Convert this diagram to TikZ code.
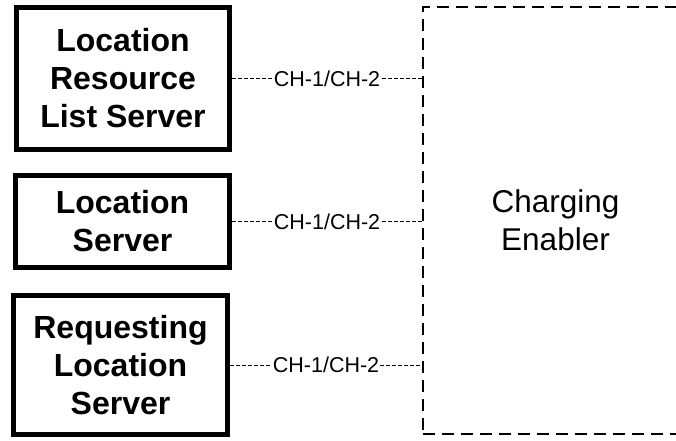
\documentclass[tikz,border=0pt]{standalone}
\usepackage{fontspec}
\setmainfont{Liberation Sans}
\begin{document}
\begin{tikzpicture}[x=1pt,y=-1pt,
  srvbox/.style={draw,line width=5pt,rectangle,align=center,inner sep=0pt,
    font=\fontsize{32}{38}\selectfont\bfseries},
  enabler/.style={draw,line width=1.8pt,dash pattern=on 12pt off 7pt,rectangle,align=center,
    font=\fontsize{31.5}{38}\selectfont},
  iface/.style={line width=0.8pt,dash pattern=on 4pt off 2pt},
  ifacelabel/.style={fill=white,inner sep=1pt,font=\fontsize{21.5}{23}\selectfont}]
\useasboundingbox (0,0) rectangle (676,440);
\node[srvbox,minimum width=213pt,minimum height=142pt] (lrls) at (123,78.5)
  {Location\\Resource\\List Server};
\node[srvbox,minimum width=214pt,minimum height=92pt] (ls) at (122.5,221.5)
  {Location\\Server};
\node[srvbox,minimum width=214pt,minimum height=139pt] (rls) at (120.5,365)
  {Requesting\\Location\\Server};
\node[enabler,minimum width=265pt,minimum height=427pt] (ce) at (555.5,220.5)
  {Charging\\Enabler};
\draw[iface] (lrls.east) -- node[ifacelabel] {CH-1/CH-2} (ce.west |- lrls.east);
\draw[iface] (ls.east) -- node[ifacelabel] {CH-1/CH-2} (ce.west |- ls.east);
\draw[iface] (rls.east) -- node[ifacelabel] {CH-1/CH-2} (ce.west |- rls.east);
\end{tikzpicture}
\end{document}
